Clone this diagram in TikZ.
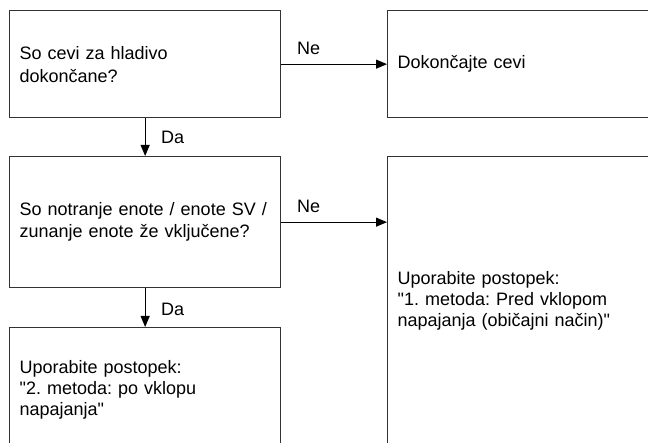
\documentclass[tikz,border=0pt]{standalone}
\usepackage{fontspec}
\setmainfont{Liberation Sans}[Ligatures=TeXOff]
\usetikzlibrary{arrows.meta,calc}
\frenchspacing
\tikzset{
  box/.style={draw=black!80, line width=1.3pt, rectangle, anchor=north west,
    inner xsep=10pt, inner ysep=0pt, align=left, font=\fontsize{18}{22}\selectfont},
  conn/.style={draw=black, line width=1pt, -{Triangle[length=11pt,width=9pt]}},
  lbl/.style={anchor=base west, inner sep=0pt, font=\fontsize{18}{22}\selectfont}
}
\begin{document}
\begin{tikzpicture}[x=1pt,y=-1pt]
\useasboundingbox (0,0) rectangle (648,443);
\clip (0,0) rectangle (648,443);
\node[box, text width=251pt, minimum width=271pt, minimum height=107pt] (b1) at (9,10)
  {So cevi za hladivo\\[1pt]dokončane?};
\node[box, text width=253pt, minimum width=273pt, minimum height=107pt] (b2) at (387,10)
  {Dokončajte cevi};
\node[box, text width=251pt, minimum width=271pt, minimum height=131pt] (b3) at (9,156)
  {So notranje enote / enote SV /\\zunanje enote že vključene?};
\node[box, text width=251pt, minimum width=271pt, minimum height=124pt,
  font=\fontsize{18}{20.7}\selectfont] (b4) at (9,327)
  {Uporabite postopek:\\"2. metoda: po vklopu\\napajanja"};
\node[box, text width=253pt, minimum width=273pt, minimum height=288pt,
  font=\fontsize{18}{20.7}\selectfont] (b5) at (387,156)
  {Uporabite postopek:\\"1. metoda: Pred vklopom\\napajanja (običajni način)"};
\draw[conn] (b1.east) -- (b2.west);
\draw[conn] (b1.south) -- (b3.north);
\draw[conn] (b3.east) -- (b3.east -| b5.west);
\draw[conn] (b3.south) -- (b4.north);
\node[lbl] (n1) at (297,55) {Ne};
\node[lbl] (d1) at (161,144) {Da};
\node[lbl] (n2) at (297,213) {Ne};
\node[lbl] (d2) at (161,316) {Da};
\end{tikzpicture}
\end{document}
